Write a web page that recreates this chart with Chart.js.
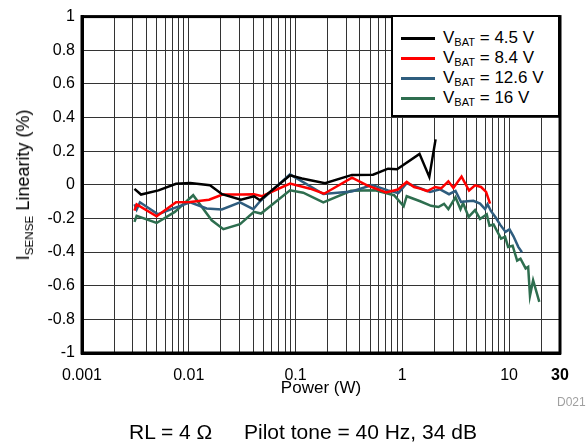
<!DOCTYPE html>
<html>
<head>
<meta charset="utf-8">
<script src="https://cdn.jsdelivr.net/npm/chart.js@4.4.0/dist/chart.umd.min.js"></script>
<style>
  body { margin: 0; background: #fff; font-family: "Liberation Sans", Arial, sans-serif; color: #000; }
  #wrap { position: relative; width: 586px; height: 445px; }
  #wrap div { position: absolute; line-height: 1; white-space: nowrap; }
  sub { font-size: 0.65em; vertical-align: -0.3em; line-height: 0; }
  #yTitle { left: 23px; top: 185px; font-size: 18px; transform: translate(-50%, -50%) rotate(-90deg); }
  #xTitle { left: 321px; top: 379px; font-size: 17px; transform: translateX(-50%); }
  #tag { left: 557px; top: 396px; font-size: 12px; color: #a0a0a0; }
  #cap1 { left: 129px; top: 421px; font-size: 21px; }
  #cap2 { left: 244px; top: 421px; font-size: 21px; }
  #legend { left: 391px; top: 15px; width: 165px; height: 87px; border: 2px solid #000; background: #fff; padding-top: 11px; box-sizing: content-box; }
  #legend .row { position: static; display: flex; align-items: center; height: 20px; line-height: 20px; font-size: 17px; }
  #legend .swatch { width: 34px; height: 3px; margin: 0 8px 0 8px; }
</style>
</head>
<body>
<div id="wrap">
  <canvas id="linearityChart" width="586" height="445"></canvas>
  <div id="yTitle">I<sub>SENSE</sub> Linearity (%)</div>
  <div id="xTitle">Power (W)</div>
  <div id="legend"></div>
  <div id="tag">D021</div>
  <div id="cap1">RL = 4 Ω</div>
  <div id="cap2">Pilot tone = 40 Hz, 34 dB</div>
</div>
<script>
const seriesLabels = ['4.5 V', '8.4 V', '12.6 V', '16 V'];
const seriesColors = ['#000000', '#ff0000', '#2f5d7e', '#2e6e4f'];

// VBAT = 4.5 V
const power45 = [0.0031, 0.00357, 0.0052, 0.0076, 0.0103, 0.0158, 0.0205, 0.0308, 0.0408, 0.0465,
  0.0888, 0.115, 0.189, 0.338, 0.532, 0.735, 0.893, 1.45, 1.79, 2.05];
const lin45 = [-0.024, -0.058, -0.033, 0.006, 0.010, -0.003, -0.056, -0.088, -0.068, -0.092,
  0.056, 0.037, 0.009, 0.059, 0.060, 0.096, 0.092, 0.184, 0.047, 0.27];

// VBAT = 8.4 V
const power84 = [0.0031, 0.00325, 0.0050, 0.0076, 0.0103, 0.0155, 0.0207, 0.0315, 0.0408, 0.0486,
  0.0888, 0.137, 0.185, 0.338, 0.468, 0.704, 0.912, 1.10, 1.29, 1.47, 1.71, 2.03, 2.31, 2.70,
  3.01, 3.59, 4.22, 4.80, 5.47, 6.09, 6.64];
const lin84 = [-0.154, -0.116, -0.187, -0.104, -0.102, -0.089, -0.058, -0.058, -0.056, -0.068,
  0.007, -0.023, -0.053, 0.042, -0.003, -0.046, -0.028, 0.017, -0.013, -0.023, -0.037, -0.013,
  -0.021, 0.021, -0.019, 0.049, -0.034, -0.003, -0.013, -0.042, -0.112];

// VBAT = 12.6 V
const power126 = [0.0031, 0.00325, 0.00349, 0.00515, 0.00728, 0.0103, 0.0147, 0.0204, 0.0302, 0.0402,
  0.0465, 0.0888, 0.182, 0.336, 0.521, 0.735, 0.918, 1.10, 1.37, 1.82, 2.26, 2.74, 3.15, 3.55,
  4.04, 4.63, 5.35, 5.96, 6.29, 6.78, 7.47, 8.24, 9.27, 10.1, 11.0, 12.2, 13.2];
const lin126 = [-0.116, -0.147, -0.104, -0.175, -0.139, -0.104, -0.141, -0.147, -0.104, -0.145,
  -0.098, 0.062, -0.055, -0.040, -0.001, -0.033, -0.049, 0.009, -0.013, -0.043, -0.027, -0.056,
  -0.036, -0.102, -0.098, -0.095, -0.112, -0.145, -0.116, -0.157, -0.193, -0.237, -0.280, -0.265,
  -0.306, -0.369, -0.401];

// VBAT = 16 V
const power16 = [0.0031, 0.00325, 0.0050, 0.0074, 0.0110, 0.0164, 0.0211, 0.0302, 0.0408, 0.0475,
  0.0888, 0.118, 0.182, 0.331, 0.556, 0.837, 1.03, 1.10, 1.47, 1.86, 2.18, 2.46, 2.70, 3.15,
  3.51, 3.71, 4.18, 4.80, 5.35, 6.18, 6.56, 7.16, 8.41, 9.18, 9.80, 10.8, 11.9, 12.8, 14.3,
  15.1, 15.7, 16.8, 19.2];
const lin16 = [-0.220, -0.184, -0.227, -0.161, -0.062, -0.211, -0.264, -0.234, -0.161, -0.171,
  -0.033, -0.047, -0.104, -0.036, -0.033, -0.062, -0.128, -0.068, -0.098, -0.125, -0.132, -0.113,
  -0.145, -0.074, -0.145, -0.108, -0.191, -0.151, -0.203, -0.175, -0.243, -0.236, -0.320, -0.309,
  -0.369, -0.362, -0.451, -0.439, -0.497, -0.488, -0.659, -0.567, -0.696];

const xGridValues = [0.001, 0.002, 0.003, 0.004, 0.005, 0.006, 0.007, 0.008, 0.009,
  0.01, 0.02, 0.03, 0.04, 0.05, 0.06, 0.07, 0.08, 0.09,
  0.1, 0.2, 0.3, 0.4, 0.5, 0.6, 0.7, 0.8, 0.9,
  1, 2, 3, 4, 5, 6, 7, 8, 9, 10, 20, 30];
const xTickLabels = [0.001, 0.01, 0.1, 1, 10, 30];

const fontFamily = '"Liberation Sans", Arial, sans-serif';

function toPoints(xs, ys) {
  return xs.map((x, i) => ({ x: x, y: ys[i] }));
}

const seriesData = [
  toPoints(power45, lin45),
  toPoints(power84, lin84),
  toPoints(power126, lin126),
  toPoints(power16, lin16)
];

// legend
const legendBox = document.getElementById('legend');
seriesLabels.forEach((label, i) => {
  const row = document.createElement('div');
  row.className = 'row';
  row.innerHTML = '<span class="swatch" style="background:' + seriesColors[i] + '"></span>' +
    '<span>V<sub>BAT</sub> = ' + label + '</span>';
  legendBox.appendChild(row);
});

const framePlugin = {
  id: 'frame',
  afterDraw(chart) {
    const { ctx, chartArea: a } = chart;
    ctx.save();
    ctx.strokeStyle = '#000';
    ctx.lineWidth = 3;
    ctx.strokeRect(a.left, a.top, a.right - a.left, a.bottom - a.top);
    ctx.restore();
  }
};

const ctx = document.getElementById('linearityChart').getContext('2d');
new Chart(ctx, {
  type: 'line',
  data: {
    datasets: seriesData.map((pts, i) => ({
      label: 'VBAT = ' + seriesLabels[i],
      data: pts,
      borderColor: seriesColors[i],
      borderWidth: 2.5,
      pointRadius: 0,
      tension: 0,
      fill: false
    }))
  },
  options: {
    responsive: false,
    animation: false,
    devicePixelRatio: 1,
    layout: { padding: { top: 16, right: 26, left: 0, bottom: 0 } },
    plugins: { legend: { display: false }, tooltip: { enabled: false } },
    scales: {
      x: {
        type: 'logarithmic',
        min: 0.001,
        max: 30,
        afterBuildTicks: s => { s.ticks = xGridValues.map(v => ({ value: v })); },
        afterFit: s => { s.height = 92; },
        grid: { color: '#333', lineWidth: 1, drawTicks: false },
        border: { color: '#000', width: 3 },
        ticks: {
          autoSkip: false,
          maxRotation: 0,
          padding: 13,
          color: '#000',
          font: c => ({ family: fontFamily, size: 16, weight: (c.tick && c.tick.value === 30) ? 'bold' : 'normal' }),
          callback: v => xTickLabels.includes(v) ? String(v) : ''
        }
      },
      y: {
        min: -1,
        max: 1,
        afterFit: s => { s.width = 82; },
        grid: { color: '#333', lineWidth: 1, drawTicks: false },
        border: { color: '#000', width: 3 },
        ticks: {
          stepSize: 0.2,
          padding: 7,
          color: '#000',
          font: { family: fontFamily, size: 16 },
          callback: v => String(Math.round(v * 10) / 10)
        }
      }
    }
  },
  plugins: [framePlugin]
});
</script>
</body>
</html>
